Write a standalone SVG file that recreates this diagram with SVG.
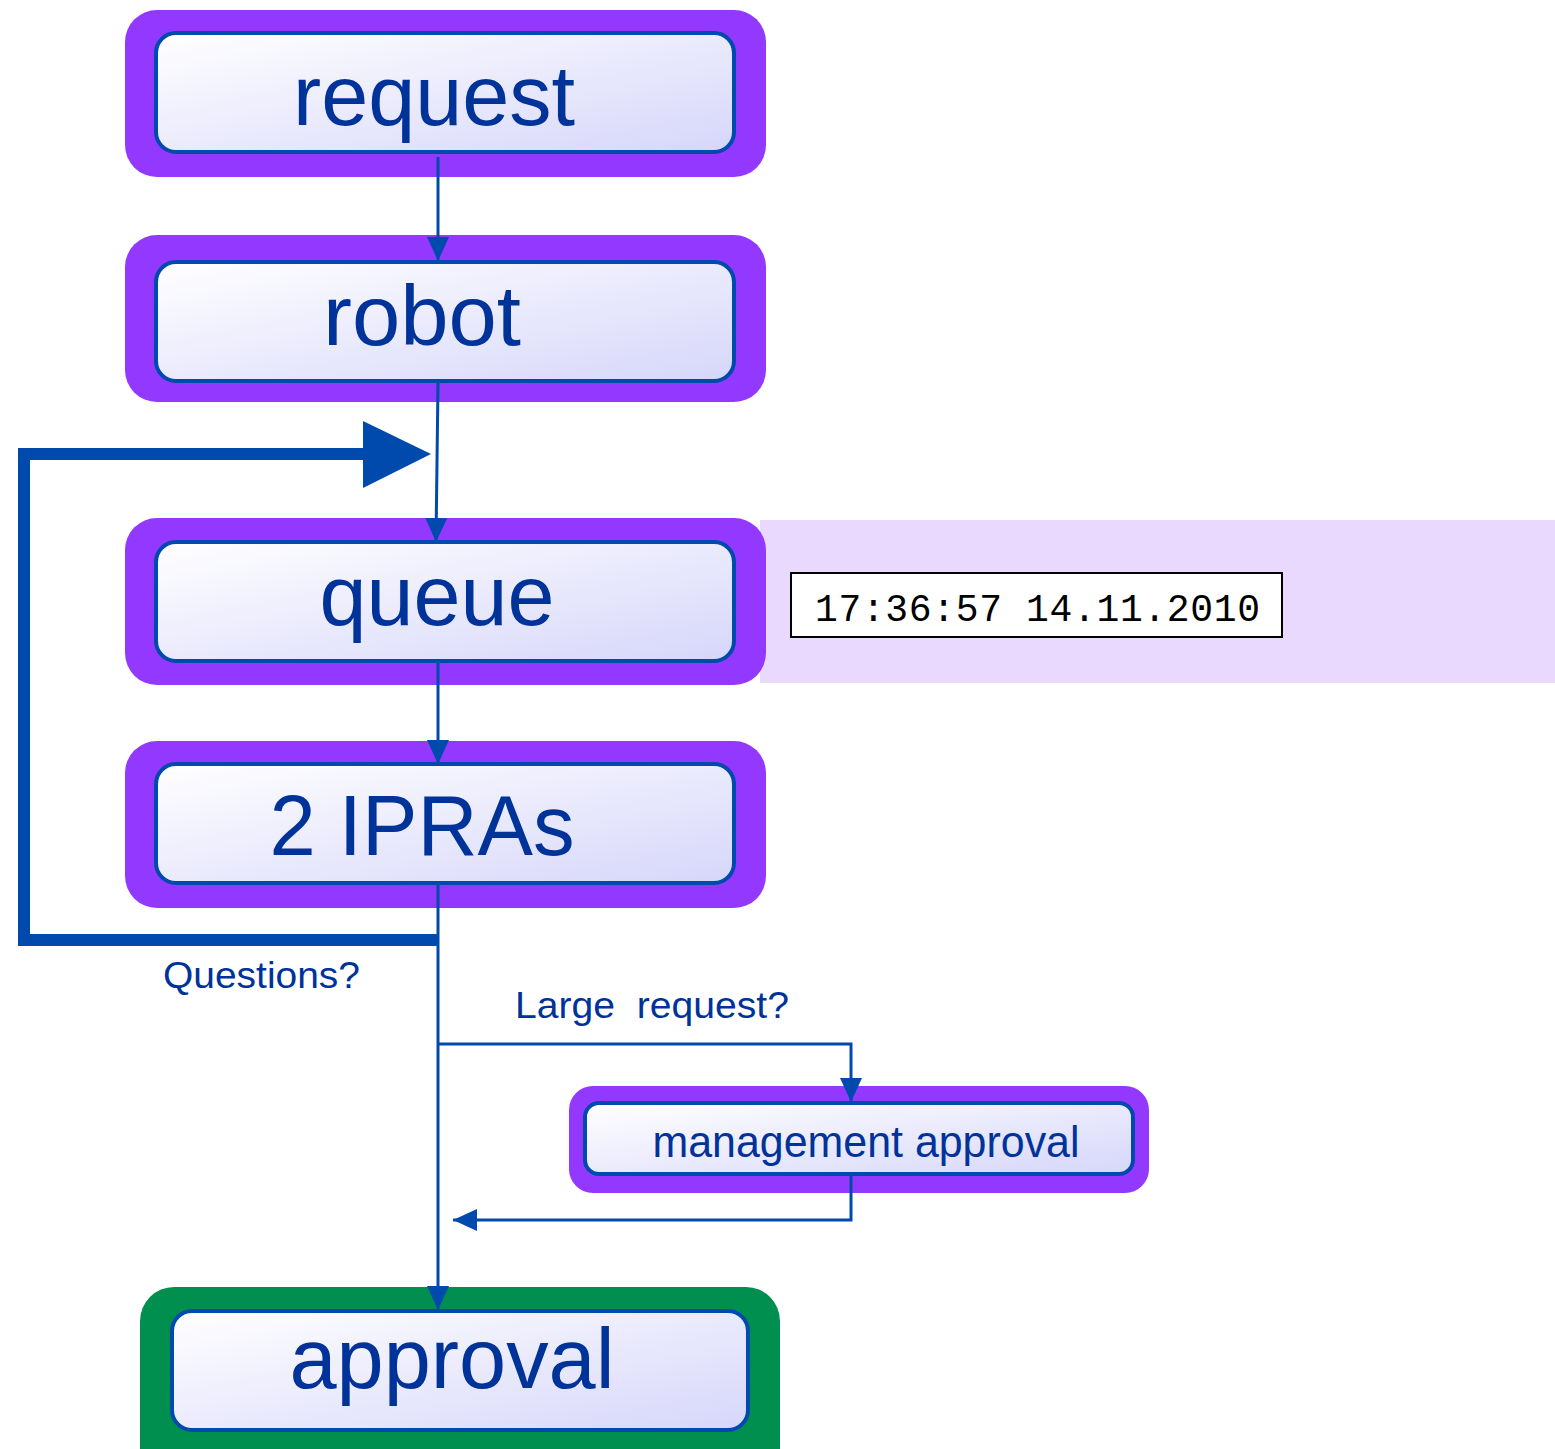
<svg xmlns="http://www.w3.org/2000/svg" width="1555" height="1449" viewBox="0 0 1555 1449">
<defs>
<linearGradient id="g" x1="0" y1="0" x2="1" y2="1">
<stop offset="0" stop-color="#FFFFFF"/>
<stop offset="1" stop-color="#D6D6FA"/>
</linearGradient>
<marker id="a2" viewBox="0 0 24 22" refX="24" refY="11" markerWidth="24" markerHeight="22" markerUnits="userSpaceOnUse" orient="auto">
<path d="M0,0 L24,11 L0,22 z" fill="#004AAD"/>
</marker>
</defs>
<style>
.outer{fill:#9339FF}
.green{fill:#008F4F}
.inner{fill:url(#g);stroke:#004AAD;stroke-width:4}
.big{font-family:"Liberation Sans",Arial,sans-serif;font-size:86px;fill:#003399;text-anchor:middle}
.mid{font-family:"Liberation Sans",Arial,sans-serif;font-size:44px;fill:#003399;text-anchor:middle}
.lbl{font-family:"Liberation Sans",Arial,sans-serif;font-size:37px;fill:#003399}
.ln{fill:none;stroke:#004AAD;stroke-width:3}
.thick{fill:none;stroke:#004AAD;stroke-width:12}
</style>
<rect x="760" y="520" width="795" height="163" fill="#E9D9FF"/>
<g id="request">
<rect class="outer" x="125" y="10" width="641" height="167" rx="32"/>
<rect class="inner" x="156" y="33" width="578" height="119" rx="20"/>
<text class="big" x="434" y="125" textLength="282" lengthAdjust="spacingAndGlyphs">request</text>
</g>
<g id="robot">
<rect class="outer" x="125" y="235" width="641" height="167" rx="32"/>
<rect class="inner" x="156" y="262" width="578" height="119" rx="20"/>
<text class="big" x="422" y="345" textLength="198" lengthAdjust="spacingAndGlyphs">robot</text>
</g>
<g id="queue">
<rect class="outer" x="125" y="518" width="641" height="167" rx="32"/>
<rect class="inner" x="156" y="542" width="578" height="119" rx="20"/>
<text class="big" x="437" y="625" textLength="235" lengthAdjust="spacingAndGlyphs">queue</text>
</g>
<g id="timestamp">
<rect x="791" y="573" width="491" height="64" fill="#FFFFFF" stroke="#000000" stroke-width="2"/>
<text x="815" y="621" font-family="'Liberation Mono','Courier New',monospace" font-size="38" fill="#000000" textLength="445">17:36:57 14.11.2010</text>
</g>
<g id="ipras">
<rect class="outer" x="125" y="741" width="641" height="167" rx="32"/>
<rect class="inner" x="156" y="764" width="578" height="119" rx="20"/>
<text class="big" x="422" y="855" textLength="305" lengthAdjust="spacingAndGlyphs">2 IPRAs</text>
</g>
<g id="labels">
<text class="lbl" x="163" y="988" textLength="197" lengthAdjust="spacingAndGlyphs">Questions?</text>
<text class="lbl" x="515" y="1018" textLength="274" lengthAdjust="spacingAndGlyphs" xml:space="preserve">Large  request?</text>
</g>
<g id="management">
<rect class="outer" x="569" y="1086" width="580" height="107" rx="24"/>
<rect class="inner" x="585" y="1103" width="548" height="71" rx="14"/>
<text class="mid" x="866" y="1157" textLength="427" lengthAdjust="spacingAndGlyphs">management approval</text>
</g>
<g id="approval">
<rect class="green" x="140" y="1287" width="640" height="200" rx="34"/>
<rect class="inner" x="172" y="1311" width="576" height="119" rx="20"/>
<text class="big" x="452" y="1388" textLength="325" lengthAdjust="spacingAndGlyphs">approval</text>
</g>
<g id="connectors">
<path class="ln" d="M438,157 L438,261" marker-end="url(#a2)"/>
<path class="ln" d="M438,383 L436,542" marker-end="url(#a2)"/>
<path class="ln" d="M438,663 L438,764" marker-end="url(#a2)"/>
<path class="ln" d="M438,885 L438,1310" marker-end="url(#a2)"/>
<path class="ln" d="M438,1044 L851,1044 L851,1102" marker-end="url(#a2)"/>
<path class="ln" d="M851,1176 L851,1220 L453,1220" marker-end="url(#a2)"/>
<path class="thick" d="M438,940 L24,940 L24,454 L370,454"/>
<path d="M363,421 L431,454 L363,488 z" fill="#004AAD"/>
</g>
</svg>
